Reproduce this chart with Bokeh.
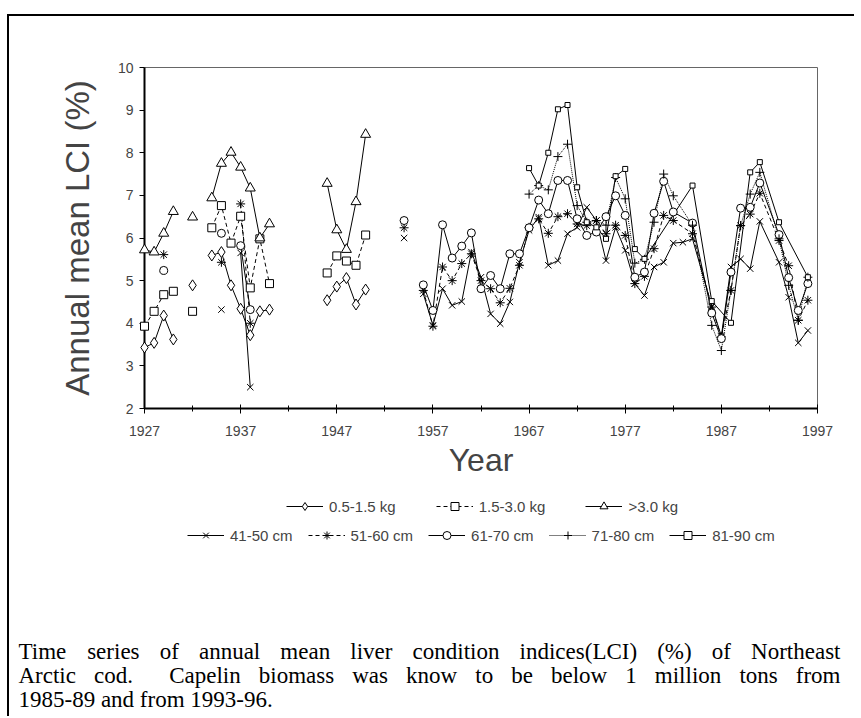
from bokeh.plotting import figure
from bokeh.layouts import column
from bokeh.models import Range1d, FixedTicker, Legend, LegendItem, Label
from bokeh.embed import file_html
from bokeh.resources import INLINE

# ---------------- data ----------------
kg_years = list(range(1927, 1951))
kg_05_15 = [3.43, 3.54, 4.18, 3.62, None, 4.89, None, 5.59, 5.67, 4.89, 4.34, 3.72, 4.28, 4.32,
            None, None, None, None, None, 4.54, 4.86, 5.06, 4.44, 4.79]
kg_15_30 = [3.93, 4.28, 4.67, 4.75, None, 4.28, None, 6.24, 6.76, 5.88, 6.51, 4.83, 5.98, 4.93,
            None, None, None, None, None, 5.18, 5.58, 5.46, 5.36, 6.07]
kg_gt30 = [5.72, 5.67, 6.11, 6.62, None, 6.49, None, 6.94, 7.75, 8.01, 7.66, 7.17, 6.00, 6.33,
           None, None, None, None, None, 7.28, 6.19, 5.73, 6.85, 8.43]

cm41_years = [1935, 1936, 1937, 1938, 1939, 1954, 1955] + list(range(1956, 1985)) + \
             [1986, 1987, 1988, 1989, 1990, 1991, 1993, 1994, 1995, 1996]
cm41 = [4.32, None, 5.65, 2.50, None, 6.00, None,
        4.69, 3.95, 4.81, 4.42, 4.51, 5.67, 5.08, 4.22, 3.99, 4.50, 5.43, 6.18, 6.49, 5.36, 5.47,
        6.10, 6.25, 6.72, 6.41, 5.47, 6.25, 5.71, 4.93, 4.65, 5.32, 5.43, 5.88, 5.90, 5.98,
        4.40, 3.70, 5.32, 5.51, 5.28, 6.39, 5.43, 4.61, 3.54, 3.83]

cm51_years = [1929, 1930, 1935, 1936, 1937, 1938, 1939, 1954, 1955] + list(range(1956, 1983)) + \
             [1984, 1986, 1987, 1988, 1989, 1990, 1991, 1993, 1994, 1995, 1996]
cm51 = [5.61, None, 5.43, None, 6.80, 4.00, None, 6.24, None,
        4.77, 3.93, 5.32, 5.00, 5.40, 5.63, 5.00, 4.81, 4.48, 4.82, 5.36, 6.25, 6.45, 6.11, 6.50,
        6.57, 6.33, 6.29, 6.41, 6.10, 6.30, 6.06, 4.93, 5.10, 5.75, 6.53, 6.41,
        6.10, 4.38, 3.68, 4.77, 6.29, 6.56, 7.05, 5.94, 5.35, 4.07, 4.54]

cm61_years = [1929, 1930, 1935, 1936, 1937, 1938, 1939, 1954, 1955] + list(range(1956, 1983)) + \
             [1984, 1986, 1987, 1988, 1989, 1990, 1991, 1993, 1994, 1995, 1996]
cm61 = [5.24, None, 6.11, None, 5.82, 4.32, None, 6.41, None,
        4.90, 4.30, 6.31, 5.53, 5.81, 6.12, 4.81, 5.12, 4.81, 5.63, 5.63, 6.24, 6.89, 6.57, 7.35,
        7.35, 6.45, 6.06, 6.14, 6.50, 6.99, 6.53, 5.08, 5.20, 6.58, 7.33, 6.61,
        6.35, 4.24, 3.64, 5.20, 6.70, 6.72, 7.29, 6.08, 5.07, 4.30, 4.93]

cm71_years = list(range(1967, 1983)) + [1984, 1986, 1987, 1988, 1989, 1990, 1991, 1993, 1994, 1995, 1996]
cm71 = [7.03, 7.23, 7.13, 7.91, 8.20, 6.76, 6.37, 6.41, 6.30, 7.42, 6.92, 5.41, 5.50, 6.37, 7.50, 6.99,
        6.30, 3.95, 3.36, 4.77, 6.29, 7.03, 7.54, 5.98, 4.89, 4.07, 5.08]

cm81_years = list(range(1967, 1980)) + [1984, 1986, 1988, 1990, 1991, 1993, 1996]
cm81 = [7.64, 7.23, 8.00, 9.02, 9.12, 7.19, 6.37, 6.25, 5.98, 7.45, 7.62, 5.74, 5.51,
        7.23, 4.52, 4.01, 7.54, 7.78, 6.37, 5.08]

x_ticks = [1927, 1937, 1947, 1957, 1967, 1977, 1987, 1997]
x_minor = [1932, 1942, 1952, 1962, 1972, 1982, 1992]
y_ticks = [2, 3, 4, 5, 6, 7, 8, 9, 10]

legend_row1 = ["0.5-1.5 kg", "1.5-3.0 kg", ">3.0 kg"]
legend_row2 = ["41-50 cm", "51-60 cm", "61-70 cm", "71-80 cm", "81-90 cm"]

caption_lines = [
    "Time series of annual mean liver condition indices(LCI) (%) of Northeast",
    "Arctic cod.  Capelin biomass was know to be below 1 million tons from",
    "1985-89 and from 1993-96.",
]


def nan(v):
    return [float("nan") if a is None else a for a in v]


SANS = "Liberation Sans"
W = 845
H1 = 464
H2 = 236

# ---------------- main chart ----------------
p = figure(width=W, height=H1, x_range=Range1d(1927, 1997), y_range=Range1d(2, 10),
           output_backend="svg", toolbar_location=None,
           min_border_left=135, min_border_right=37, min_border_top=51, min_border_bottom=72)
p.frame_align = False
p.xgrid.visible = False
p.ygrid.visible = False
p.outline_line_color = "#666666"
p.outline_line_width = 1

xa = p.xaxis[0]
xa.ticker = FixedTicker(ticks=x_ticks, minor_ticks=x_minor)
xa.axis_line_width = 2
xa.major_tick_in = 4
xa.major_tick_out = 5
xa.minor_tick_in = 3
xa.minor_tick_out = 3
xa.major_label_text_font = SANS
xa.major_label_text_font_size = "14px"
xa.major_label_standoff = 12
xa.axis_label = "Year"
xa.axis_label_text_font = SANS
xa.axis_label_text_font_size = "32px"
xa.axis_label_text_font_style = "normal"
xa.axis_label_standoff = 3

ya = p.yaxis[0]
ya.ticker = FixedTicker(ticks=y_ticks)
ya.axis_line_width = 2
ya.major_tick_in = 0
ya.major_tick_out = 5
ya.minor_tick_line_color = None
ya.major_label_text_font = SANS
ya.major_label_text_font_size = "14px"
ya.major_label_standoff = 6
ya.axis_label = "Annual mean LCI (%)"
ya.axis_label_text_font = SANS
ya.axis_label_text_font_size = "33px"
ya.axis_label_text_font_style = "normal"
ya.axis_label_standoff = 19

series = [
    ("0.5-1.5 kg", kg_years, kg_05_15, "diamond", 11, "solid"),
    ("1.5-3.0 kg", kg_years, kg_15_30, "square", 8, "4 3"),
    (">3.0 kg", kg_years, kg_gt30, "triangle", 10, "solid"),
    ("41-50 cm", cm41_years, cm41, "x", 9, "solid"),
    ("51-60 cm", cm51_years, cm51, "asterisk", 9, "4 3"),
    ("61-70 cm", cm61_years, cm61, "circle", 8, "solid"),
    ("71-80 cm", cm71_years, cm71, "cross", 9, "1 1"),
    ("81-90 cm", cm81_years, cm81, "square", 5, "solid"),
]
style = {}
for label, xs, ys, marker, size, dash in series:
    yv = nan(ys)
    p.line(xs, yv, line_color="black", line_width=1, line_dash=dash)
    p.scatter(xs, yv, marker=marker, size=size, fill_color="white",
              line_color="black", line_width=1, level="overlay")
    style[label] = (marker, size, dash)

# ---------------- legend + caption panel ----------------
q = figure(width=W, height=H2, x_range=Range1d(0, W), y_range=Range1d(0, H2),
           output_backend="svg", toolbar_location=None, x_axis_type=None, y_axis_type=None,
           min_border_left=0, min_border_right=0, min_border_top=0, min_border_bottom=0)
q.frame_align = False
q.xgrid.visible = False
q.ygrid.visible = False
q.outline_line_color = None

legend_items = {}
for label in legend_row1 + legend_row2:
    marker, size, dash = style[label]
    lr = q.line([float("nan")], [float("nan")], line_color="black", line_width=1, line_dash=dash)
    sr = q.scatter([float("nan")], [float("nan")], marker=marker, size=size, fill_color="white",
                   line_color="black", line_width=1)
    legend_items[label] = LegendItem(label=label, renderers=[lr, sr])

leg1 = Legend(items=[legend_items[l] for l in legend_row1], location=(277, 200),
              orientation="horizontal", spacing=40)
leg2 = Legend(items=[legend_items[l] for l in legend_row2], location=(178, 171),
              orientation="horizontal", spacing=15)
for lg in (leg1, leg2):
    lg.padding = 0
    lg.margin = 0
    lg.border_line_alpha = 0
    lg.background_fill_alpha = 0
    lg.glyph_width = 37
    lg.glyph_height = 20
    lg.label_standoff = 6
    lg.label_text_font = SANS
    lg.label_text_font_size = "15px"
    q.add_layout(lg, "center")

TIMES = {" ": 250, "T": 611, "i": 278, "m": 778, "e": 444, "s": 389, "r": 333, "o": 500, "f": 333,
         "a": 444, "n": 500, "u": 500, "l": 278, "v": 500, "c": 444, "d": 500, "t": 278, "(": 333,
         "L": 611, "C": 667, "I": 333, ")": 333, "%": 833, "N": 722, "h": 500, "A": 722, ".": 250,
         "p": 500, "b": 500, "w": 722, "k": 500, "-": 333, "g": 500, "y": 500}
CAP_SIZE = 23


def tw(s):
    return sum(TIMES.get(ch, 500) for ch in s) * CAP_SIZE / 1000.0


cap_x0, cap_x1 = 9, 831
cap_y = [65, 41, 17]
for i, line in enumerate(caption_lines):
    if i < len(caption_lines) - 1:
        words = line.split(" ")
        total = sum(tw(w) for w in words)
        gap = (cap_x1 - cap_x0 - total) / (len(words) - 1)
        x = cap_x0
        for w in words:
            if w:
                q.add_layout(Label(x=x, y=cap_y[i], text=w,
                                   text_font="Liberation Serif", text_font_size=f"{CAP_SIZE}px",
                                   text_baseline="middle", text_align="left", text_color="black"))
            x += tw(w) + gap
    else:
        q.add_layout(Label(x=cap_x0, y=cap_y[i], text=line,
                           text_font="Liberation Serif", text_font_size=f"{CAP_SIZE}px",
                           text_baseline="middle", text_align="left", text_color="black"))

layout = column(p, q, spacing=0,
                styles={"margin-left": "7px", "margin-top": "14px",
                        "border-left": "2px solid black", "border-top": "2px solid black"})

open("out.html", "w").write(file_html(layout, INLINE))
